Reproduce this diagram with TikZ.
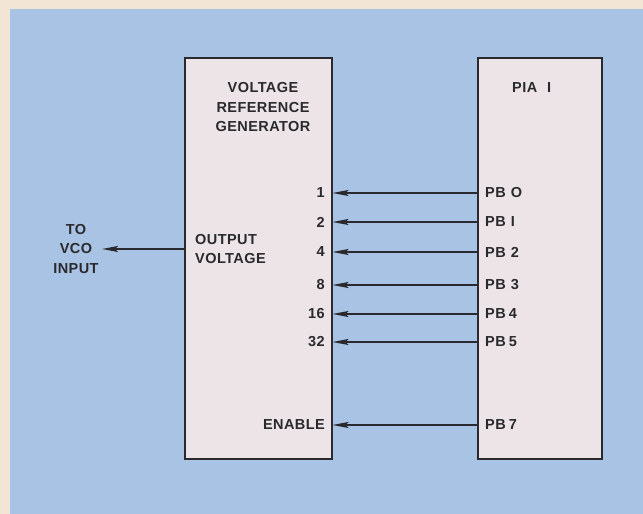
\documentclass[tikz,border=0pt]{standalone}
\usepackage{fontspec}
\setmainfont{Liberation Sans}[LetterSpace=3]
\usetikzlibrary{arrows.meta}
\definecolor{bgblue}{HTML}{A9C3E4}
\definecolor{beige}{HTML}{F3E5D6}
\definecolor{boxfill}{HTML}{ECE4E6}
\definecolor{ink}{HTML}{2A2A2E}
\tikzset{
  blockbox/.style={draw=ink, line width=2pt, fill=boxfill, rectangle, inner sep=0pt},
  lbl/.style={font=\fontsize{14.5}{19.5}\selectfont\bfseries, text=ink, inner sep=0pt},
  sig/.style={draw=ink, line width=1.8pt, -{Stealth[length=16pt,width=6pt,inset=3pt]}},
}
\begin{document}
\begin{tikzpicture}[x=1pt,y=-1pt]
\useasboundingbox (0,0) rectangle (643,514);
\fill[beige] (0,0) rectangle (643,514);
\fill[bgblue] (10,9) rectangle (643,514);
% boxes
\node[blockbox, minimum width=147pt, minimum height=401pt] (vrg) at (258,258.5) {};
\node[blockbox, minimum width=124pt, minimum height=401pt] (pia) at (540,258.5) {};
% titles
\node[lbl, align=center] (vrgtitle) at (263,107.5) {VOLTAGE\\REFERENCE\\GENERATOR};
\node[lbl, anchor=west] (piatitle) at (512,88) {PIA\hspace{10pt}I};
% output
\node[lbl, align=left, anchor=west] (outv) at (195,249) {OUTPUT\\VOLTAGE};
\node[lbl, align=center] (vco) at (76,249) {TO\\VCO\\INPUT};
\coordinate (vcoend) at (102,249);
\draw[sig] (vrg.west |- outv) -- (vcoend);
% inputs
\foreach \n/\v/\p/\y in {a/1/PB\hspace{5pt}O/193, b/2/PB\hspace{5pt}I/222, c/4/PB\hspace{5pt}2/252, d/8/PB\hspace{5pt}3/285, e/16/PB\hspace{3pt}4/314, f/32/PB\hspace{3pt}5/342, g/ENABLE/PB\hspace{3pt}7/425}{
  \node[lbl, anchor=east] (in\n) at (325,\y) {\v};
  \node[lbl, anchor=west] (pb\n) at (485,\y) {\p};
  \draw[sig] (pia.west |- pb\n) -- (vrg.east |- in\n);
}
\end{tikzpicture}
\end{document}
